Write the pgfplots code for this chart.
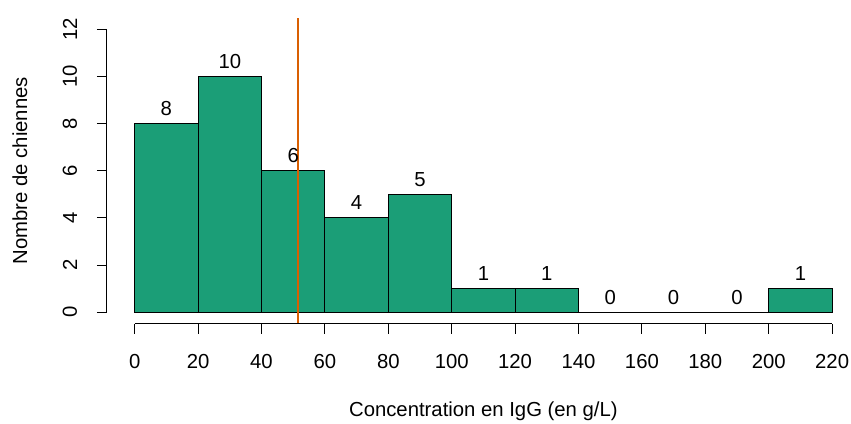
\documentclass[border=0pt]{standalone}
\usepackage{fontspec}
\setmainfont{Liberation Sans}
\usepackage{graphicx}
\usepackage{pgfplots}
\pgfplotsset{compat=1.18}
\definecolor{barvert}{HTML}{1B9E77}
\definecolor{ligneor}{HTML}{D95F02}
\newcommand{\rfont}{\fontsize{10.15}{12}\selectfont}
\begin{document}
\begin{tikzpicture}
\useasboundingbox (-53.4pt,-49.7pt) rectangle (372.1pt,161.8pt);
\begin{axis}[
	at={(0,0)}, anchor=south west,
	scale only axis,
	width=376.6pt, height=152.9pt,
	xmin=-8.8, xmax=228.8,
	ymin=-0.48, ymax=12.48,
	axis lines*=left,
	axis line style={draw=none},
	clip=false,
	xtick={0,20,...,220},
	ytick={0,2,...,12},
	x tick label as interval=false,
	tick align=outside,
	major tick length=5pt,
	tick style={black, line width=0.5pt},
	/pgf/number format/assume math mode=true,
	tick label style={font=\rfont},
	xticklabel style={anchor=north, yshift=-7pt},
	yticklabel={\rotatebox{90}{\pgfmathprintnumber{\tick}}},
	yticklabel style={xshift=-6.3pt},
	xlabel={Concentration en IgG (en g/L)},
	ylabel={Nombre de chiennes},
	every axis x label/.style={at={(axis cs:110,-4.18)}, anchor=center, font=\rfont},
	every axis y label/.style={at={(axis cs:-36.2,6)}, rotate=90, anchor=center, font=\rfont},
]
	% histogram (classes de 20 g/L)
	\addplot [
		ybar interval,
		fill=barvert,
		draw=black,
		line width=0.5pt,
	] coordinates {(0,8) (20,10) (40,6) (60,4) (80,5) (100,1) (120,1) (140,0) (160,0) (180,0) (200,1) (220,1)};
	% effectifs au-dessus des barres
	\addplot [
		draw=none,
		mark=none,
		nodes near coords,
		nodes near coords style={font=\rfont, anchor=base, yshift=4pt, text=black},
	] coordinates {(10,8) (30,10) (50,6) (70,4) (90,5) (110,1) (130,1) (150,0) (170,0) (190,0) (210,1)};
	% valeur de reference
	\addplot [color=ligneor, line width=1.1pt] coordinates {(51.6,-0.48) (51.6,12.48)};
	% axes style R
	\draw [black, line width=0.5pt] (axis cs:0,-0.48) -- (axis cs:220,-0.48);
	\draw [black, line width=0.5pt] (axis cs:-8.8,0) -- (axis cs:-8.8,12);
\end{axis}
\end{tikzpicture}
\end{document}
